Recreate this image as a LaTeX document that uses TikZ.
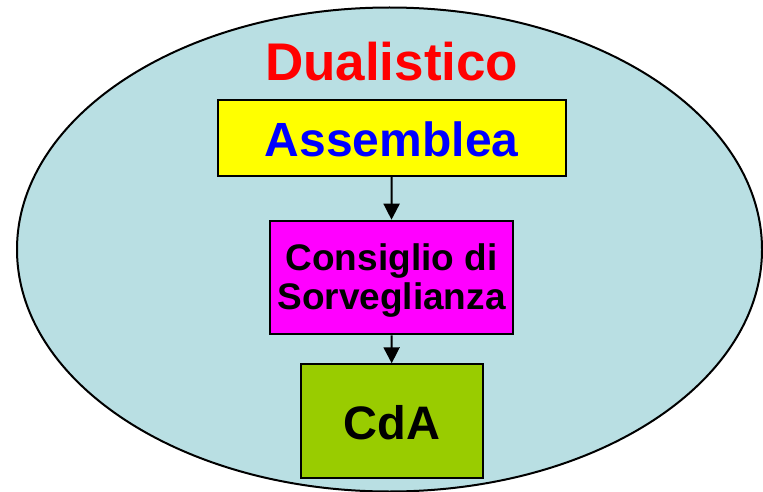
\documentclass[tikz,border=0pt]{standalone}
\usepackage{fontspec}
\setmainfont{Liberation Sans}
\usetikzlibrary{arrows.meta}
\definecolor{ellfill}{HTML}{B9DFE3}
\definecolor{boxgreen}{HTML}{99CC00}
\definecolor{boxyellow}{HTML}{FFFF00}
\definecolor{boxmagenta}{HTML}{FF00FF}
\definecolor{txtblue}{HTML}{0000FF}
\definecolor{txtred}{HTML}{FF0000}
\tikzset{
  box/.style={draw=black, line width=2pt, inner sep=0pt, align=center, font=\bfseries},
  conn/.style={line width=2pt, -{Triangle[width=16pt,length=16pt]}}
}
\begin{document}
\begin{tikzpicture}[x=1pt,y=-1pt]
\useasboundingbox (0,0) rectangle (763,492);
\draw[line width=2pt, fill=ellfill] (389.5,249.5) ellipse [x radius=372.5, y radius=242];
\node[anchor=base, text=txtred, font=\bfseries\fontsize{53}{60}\selectfont, inner sep=0pt] (title) at (391.7,81) {Dualistico};
\node[box, fill=boxyellow, text=txtblue, font=\bfseries\fontsize{48}{55}\selectfont, minimum width=348pt, text height=56.7pt, text depth=19pt, anchor=base] (asm) at (391.7,156.7) {Assemblea};
\node[box, fill=boxmagenta, font=\bfseries\fontsize{37}{39}\selectfont, minimum width=243pt, text height=88.3pt, text depth=25.3pt, anchor=base] (cons) at (391.5,309) {Consiglio di\\Sorveglianza};
\node[box, fill=boxgreen, font=\bfseries\fontsize{47}{54}\selectfont, minimum width=182pt, text height=74.7pt, text depth=39.3pt, anchor=base] (cda) at (391.7,439) {CdA};
\draw[conn] (asm.south) -- (cons.north);
\draw[conn] (cons.south) -- (cda.north);
\end{tikzpicture}
\end{document}
